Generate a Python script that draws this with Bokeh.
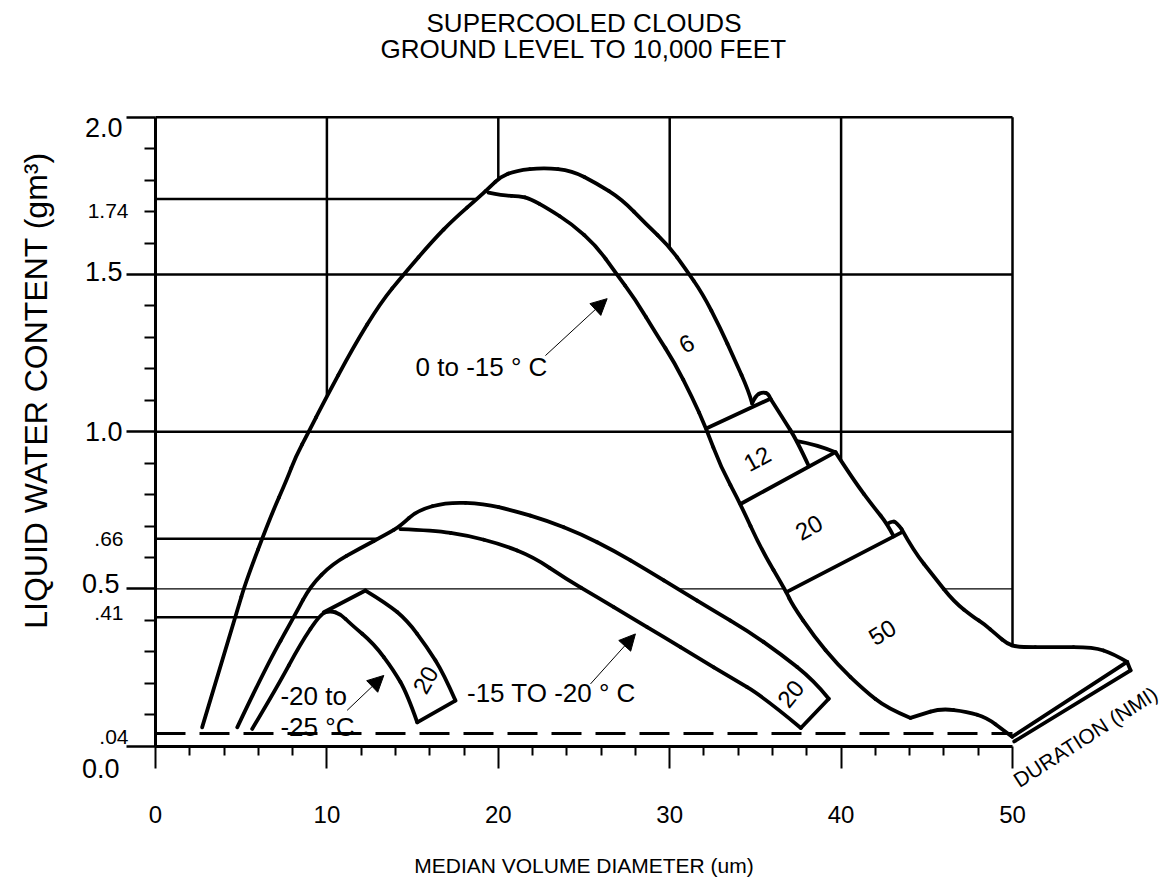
import numpy as np
from bokeh.plotting import figure
from bokeh.models import (ColumnDataSource, FixedTicker, Label, Arrow, NormalHead,
                          Range1d, LinearAxis, CustomJSTickFormatter)
from bokeh.core.properties import value
from bokeh.embed import file_html
from bokeh.resources import INLINE

FONT = "Liberation Sans"

# ---------------- texts ----------------
title_lines = ["SUPERCOOLED CLOUDS", "GROUND LEVEL TO 10,000 FEET"]
x_title = "MEDIAN VOLUME DIAMETER (um)"
y_title = "LIQUID WATER CONTENT (gm\u00b3)"
duration_title = "DURATION (NMI)"

# ---------------- axes ----------------
x_major_ticks = [0, 10, 20, 30, 40, 50]
x_minor_ticks = [v for v in range(2, 50, 2) if v % 10 != 0]
y_major_ticks = [0.0, 0.5, 1.0, 1.5, 2.0]
y_minor_ticks = [round(0.1 * i, 1) for i in range(1, 20) if i % 5 != 0]

y_label_values = [2.0, 1.74, 1.5, 1.0, 0.66, 0.5, 0.41, 0.04, 0.0]
y_label_texts = ["2.0", "1.74", "1.5", "1.0", ".66", "0.5", ".41", ".04", "0.0"]

# ---------------- reference levels ----------------
full_grid_levels = [2.0, 1.5, 1.0]
vert_grid_x = [10, 20, 30, 40, 50]
min_lwc_level = 0.04

# ---------------- envelopes ----------------
# 0 to -15 C : rising edge + upper edge of the "6" band
warm_outer_x = [2.72, 4.77, 5.25, 6.71, 7.68, 8.17, 8.94, 9.78, 11.55, 13.13, 14.47, 16.22,
                17.39, 18.96, 19.55, 20.13, 21.0, 22.67, 24.31, 25.73, 27.19, 28.63, 29.96,
                30.89, 31.91, 32.95, 33.78, 34.6, 34.81]
warm_outer_y = [0.06, 0.43, 0.52, 0.73, 0.85, 0.92, 1.0, 1.09, 1.27, 1.41, 1.5, 1.61,
                1.675, 1.75, 1.78, 1.81, 1.83, 1.84, 1.83, 1.79, 1.74, 1.66, 1.59,
                1.52, 1.44, 1.33, 1.23, 1.13, 1.09]
# inner edge of the band, continuing as the lower edge of the 12/20/50 boxes
warm_inner_x = [19.43, 20.3, 21.23, 21.88, 22.87, 24.31, 25.73, 26.78, 28.0, 29.23, 30.28,
                31.31, 32.13, 32.96, 34.13, 35.3, 36.81, 37.15, 38.41, 39.78, 41.32, 42.69,
                44.05]
warm_inner_y = [1.76, 1.75, 1.75, 1.74, 1.71, 1.66, 1.59, 1.51, 1.42, 1.31, 1.22,
                1.11, 1.01, 0.89, 0.77, 0.63, 0.49, 0.45, 0.35, 0.26, 0.18, 0.12,
                0.09]
warm_bump_x = [44.05, 44.63, 45.8, 47.36, 48.52, 49.49, 49.98]
warm_bump_y = [0.09, 0.10, 0.12, 0.11, 0.09, 0.05, 0.03]
notch12_x = [34.81, 35.01, 35.42, 35.77, 35.88]
notch12_y = [1.09, 1.115, 1.126, 1.121, 1.105]
div6_12_x = [32.13, 35.88]
div6_12_y = [1.01, 1.105]
box12_right_x = [35.88, 36.64, 37.44, 38.12]
box12_right_y = [1.105, 1.04, 0.97, 0.89]
div12_20_x = [34.13, 39.67]
div12_20_y = [0.77, 0.935]
cap20_x = [37.44, 38.51, 39.67]
cap20_y = [0.97, 0.96, 0.935]
box20_right_x = [39.67, 40.74, 41.91, 42.69, 43.07]
box20_right_y = [0.935, 0.845, 0.76, 0.707, 0.667]
cap50_x = [42.69, 42.94, 43.23, 43.53]
cap50_y = [0.707, 0.716, 0.712, 0.69]
div20_50_x = [36.81, 43.53]
div20_50_y = [0.49, 0.68]
box50_outer_x = [43.53, 44.24, 45.41, 46.57, 47.74, 48.31, 49.1, 49.69, 50.27, 52.39,
                 54.73, 55.89, 56.69]
box50_outer_y = [0.69, 0.62, 0.54, 0.46, 0.41, 0.39, 0.353, 0.326, 0.315, 0.315,
                 0.315, 0.294, 0.268]
dur_upper_x = [49.98, 56.69]
dur_upper_y = [0.03, 0.268]
dur_lower_x = [50.1, 56.89]
dur_lower_y = [0.015, 0.241]
dur_cap_x = [56.69, 56.89]
dur_cap_y = [0.268, 0.241]

# -15 to -20 C
cold_outer_x = [4.77, 6.42, 8.17, 9.04, 10.33, 11.96, 13.52, 14.29, 15.27, 17.02, 19.15,
                20.9, 22.85, 24.8, 26.74, 28.69, 30.63, 32.57, 34.52, 36.46, 38.41, 39.28]
cold_outer_y = [0.06, 0.25, 0.42, 0.51, 0.58, 0.63, 0.675, 0.70, 0.75, 0.776, 0.771,
                0.749, 0.717, 0.675, 0.622, 0.559, 0.495, 0.431, 0.368, 0.294, 0.209, 0.151]
cold_inner_x = [14.29, 16.24, 18.19, 20.13, 22.07, 23.92, 25.77, 27.71, 29.66, 31.6,
                33.55, 35.49, 37.65]
cold_inner_y = [0.69, 0.686, 0.670, 0.643, 0.601, 0.533, 0.474, 0.410, 0.347, 0.283,
                0.219, 0.156, 0.058]
cold_cap_x = [37.65, 39.28]
cold_cap_y = [0.058, 0.151]

# -20 to -25 C
colder_dome_x = [5.64, 7.1, 8.46, 9.63, 10.2, 10.8, 11.38, 12.74, 13.9, 14.68, 15.27]
colder_dome_y = [0.055, 0.188, 0.326, 0.421, 0.431, 0.42, 0.389, 0.326, 0.241, 0.167, 0.076]
colder_top_x = [9.82, 12.25]
colder_top_y = [0.426, 0.495]
colder_outer_x = [12.25, 13.52, 14.68, 15.85, 16.82, 17.5]
colder_outer_y = [0.495, 0.453, 0.400, 0.315, 0.230, 0.145]
colder_cap_x = [15.27, 17.5]
colder_cap_y = [0.076, 0.145]

# duration numbers (nmi) written in the bands
band_text = ["6", "12", "20", "50", "20", "20"]
band_x = [30.98, 35.10, 38.12, 42.40, 37.05, 15.75]
band_y = [1.28, 0.914, 0.696, 0.362, 0.167, 0.211]
band_angle = [0.5, 0.5, 0.5, 0.55, 0.9, 1.05]

note_text = ["0 to -15 \u00b0 C", "-15 TO -20 \u00b0 C", "-20 to", "-25 \u00b0C"]
note_x = [19.02, 23.1, 7.29, 7.29]
note_y = [1.205, 0.168, 0.161, 0.06]
note_align = ["center", "center", "left", "left"]

arrow_x0 = [22.75, 25.38, 11.18]
arrow_y0 = [1.242, 0.198, 0.114]
arrow_x1 = [26.35, 28.0, 13.32]
arrow_y1 = [1.423, 0.357, 0.225]


def x_at_level(xs, ys, level, last=False):
    hits = []
    for i in range(len(xs) - 1):
        y0, y1 = ys[i], ys[i + 1]
        if y0 == y1:
            continue
        if (y0 - level) * (y1 - level) <= 0:
            t = (level - y0) / (y1 - y0)
            hits.append(xs[i] + t * (xs[i + 1] - xs[i]))
    return hits[-1] if last else hits[0]


def y_at_x(xs, ys, x):
    return float(np.interp(x, xs, ys))


def quad_pieces(xs, ys):
    """Quadratic pieces through the polyline (midpoint smoothing)."""
    n = len(xs)
    out = dict(x0=[], y0=[], x1=[], y1=[], cx=[], cy=[])
    sx, sy = xs[0], ys[0]
    for i in range(1, n - 1):
        if i < n - 2:
            ex, ey = (xs[i] + xs[i + 1]) / 2, (ys[i] + ys[i + 1]) / 2
        else:
            ex, ey = xs[-1], ys[-1]
        out["x0"].append(sx); out["y0"].append(sy)
        out["x1"].append(ex); out["y1"].append(ey)
        out["cx"].append(xs[i]); out["cy"].append(ys[i])
        sx, sy = ex, ey
    return out


# ---------------- figure (frame = whole canvas) ----------------
W, H = 1168, 878
X0_PX, Y0_PX = 155, 745.7       # where x=0 / y=0 sit on the canvas
PXX, PXY = 17.14, 314.5         # pixels per data unit
p = figure(width=W, height=H,
           x_range=Range1d(-X0_PX / PXX, (W - X0_PX) / PXX),
           y_range=Range1d(-(H - Y0_PX) / PXY, Y0_PX / PXY),
           output_backend="svg", toolbar_location=None,
           x_axis_location=None, y_axis_location=None,
           min_border=0)
p.outline_line_color = None
p.background_fill_color = "white"
p.border_fill_color = "white"
p.xgrid.visible = False
p.ygrid.visible = False

# axes at fixed positions
xa = LinearAxis(fixed_location=0, bounds=(0, 50),
                ticker=FixedTicker(ticks=x_major_ticks, minor_ticks=x_minor_ticks))
xa.axis_line_width = 3
xa.major_tick_out = 22
xa.major_tick_in = 0
xa.minor_tick_out = 9
xa.minor_tick_in = 0
xa.major_tick_line_width = 2
xa.minor_tick_line_width = 2
xa.major_label_text_font = FONT
xa.major_label_text_font_size = "24px"
xa.major_label_text_color = "black"
xa.major_label_standoff = 38
p.add_layout(xa, "below")

ya = LinearAxis(fixed_location=0, bounds=(0, 2),
                ticker=FixedTicker(ticks=y_major_ticks, minor_ticks=y_minor_ticks))
ya.axis_line_width = 3
ya.major_tick_out = 29
ya.major_tick_in = 0
ya.minor_tick_out = 11
ya.minor_tick_in = 0
ya.major_tick_line_width = 2.5
ya.minor_tick_line_width = 2
ya.formatter = CustomJSTickFormatter(code="return '';")
ya.major_label_standoff = 0
p.add_layout(ya, "left")

# grid / reference lines
g_x0, g_y0, g_x1, g_y1 = [], [], [], []
for lv in full_grid_levels:
    g_x0.append(0); g_x1.append(50); g_y0.append(lv); g_y1.append(lv)
vert_bottoms = [y_at_x(warm_outer_x, warm_outer_y, 10),
                y_at_x(warm_outer_x, warm_outer_y, 20),
                y_at_x(warm_outer_x, warm_outer_y, 30),
                y_at_x(box20_right_x, box20_right_y, 40),
                y_at_x(box50_outer_x, box50_outer_y, 50)]
for gx, yb in zip(vert_grid_x, vert_bottoms):
    g_x0.append(gx); g_x1.append(gx); g_y0.append(2.0); g_y1.append(yb)
partial = [(1.74, 0, x_at_level(warm_outer_x, warm_outer_y, 1.74)),
           (0.66, 0, x_at_level(cold_outer_x, cold_outer_y, 0.66)),
           (0.41, 0, x_at_level(colder_dome_x, colder_dome_y, 0.41))]
for lv, a, b in partial:
    g_x0.append(a); g_x1.append(b); g_y0.append(lv); g_y1.append(lv)
p.segment(g_x0, g_y0, g_x1, g_y1, line_color="black", line_width=2.5)

half = 0.5
half_segs = [(0, x_at_level(cold_inner_x, cold_inner_y, half)),
             (x_at_level(cold_outer_x, cold_outer_y, half, last=True),
              x_at_level(warm_inner_x, warm_inner_y, half)),
             (x_at_level(box50_outer_x, box50_outer_y, half), 50)]
p.segment([s[0] for s in half_segs], [half] * 3, [s[1] for s in half_segs], [half] * 3,
          line_color="black", line_width=1.2)

p.line([0, 50], [min_lwc_level, min_lwc_level], line_color="black", line_width=3,
       line_dash="30 14")

# envelopes: curved edges
smooth = [
    (warm_outer_x, warm_outer_y), (warm_inner_x, warm_inner_y), (warm_bump_x, warm_bump_y),
    (notch12_x, notch12_y), (box12_right_x, box12_right_y), (cap20_x, cap20_y),
    (box20_right_x, box20_right_y), (cap50_x, cap50_y), (box50_outer_x, box50_outer_y),
    (cold_outer_x, cold_outer_y), (cold_inner_x, cold_inner_y),
    (colder_dome_x, colder_dome_y), (colder_outer_x, colder_outer_y),
]
q = dict(x0=[], y0=[], x1=[], y1=[], cx=[], cy=[])
for xs, ys in smooth:
    part = quad_pieces(xs, ys)
    for k in q:
        q[k].extend(part[k])
p.quadratic(x0="x0", y0="y0", x1="x1", y1="y1", cx="cx", cy="cy",
            source=ColumnDataSource(q), line_color="black", line_width=3.8,
            line_cap="round")

# straight edges (dividers, caps, duration scale)
straight = [
    (div6_12_x, div6_12_y), (div12_20_x, div12_20_y), (div20_50_x, div20_50_y),
    (dur_upper_x, dur_upper_y), (dur_lower_x, dur_lower_y), (dur_cap_x, dur_cap_y),
    (cold_cap_x, cold_cap_y), (colder_top_x, colder_top_y), (colder_cap_x, colder_cap_y),
]
p.multi_line([c[0] for c in straight], [c[1] for c in straight], line_color="black",
             line_width=3.8, line_join="round", line_cap="round")

# band numbers
bsrc = ColumnDataSource(dict(x=band_x, y=band_y, text=band_text, angle=band_angle))
p.text("x", "y", text="text", angle="angle", source=bsrc, text_font=value(FONT),
       text_font_size=value("24px"), text_align="center", text_baseline="middle",
       text_color="black")

nsrc = ColumnDataSource(dict(x=note_x, y=note_y, text=note_text, align=note_align))
p.text("x", "y", text="text", source=nsrc, text_font=value(FONT),
       text_font_size=value("26px"), text_align="align", text_baseline="middle",
       text_color="black")

for x0, y0, x1, y1 in zip(arrow_x0, arrow_y0, arrow_x1, arrow_y1):
    p.add_layout(Arrow(end=NormalHead(size=16, fill_color="black", line_color="black",
                                      line_width=1),
                       x_start=x0, y_start=y0, x_end=x1, y_end=y1,
                       line_color="black", line_width=1))

# y tick labels (major ones printed larger, as in the original)
y_off = [-10, -12, 3, 0, 0, 5, 4, -3, -22]
x_off = [-33, -27, -33, -33, -32, -36, -32, -27, -36]
y_size = ["27px", "21px", "27px", "27px", "21px", "27px", "21px", "21px", "27px"]
for v, t, dy, dx, fs in zip(y_label_values, y_label_texts, y_off, x_off, y_size):
    p.add_layout(Label(x=0, y=v, text=t, x_offset=dx, y_offset=dy, text_font=FONT,
                       text_font_size=fs, text_align="right",
                       text_baseline="middle", text_color="black"))

# titles
for t, yy in zip(title_lines, [2.301, 2.218]):
    p.add_layout(Label(x=25, y=yy, text=t, text_font=FONT, text_font_size="26px",
                       text_align="center", text_baseline="middle", text_color="black"))
p.add_layout(Label(x=25, y=-0.379, text=x_title, text_font=FONT, text_font_size="21px",
                   text_align="center", text_baseline="middle", text_color="black"))
p.add_layout(Label(x=-7.0, y=1.131, text=y_title, angle=np.pi / 2, text_font=FONT,
                   text_font_size="32px", text_align="center", text_baseline="middle",
                   text_color="black"))
p.add_layout(Label(x=54.25, y=0.03, text=duration_title, angle=0.574, text_font=FONT,
                   text_font_size="21px", text_align="center", text_baseline="middle",
                   text_color="black"))

open("out.html", "w").write(file_html(p, INLINE))
